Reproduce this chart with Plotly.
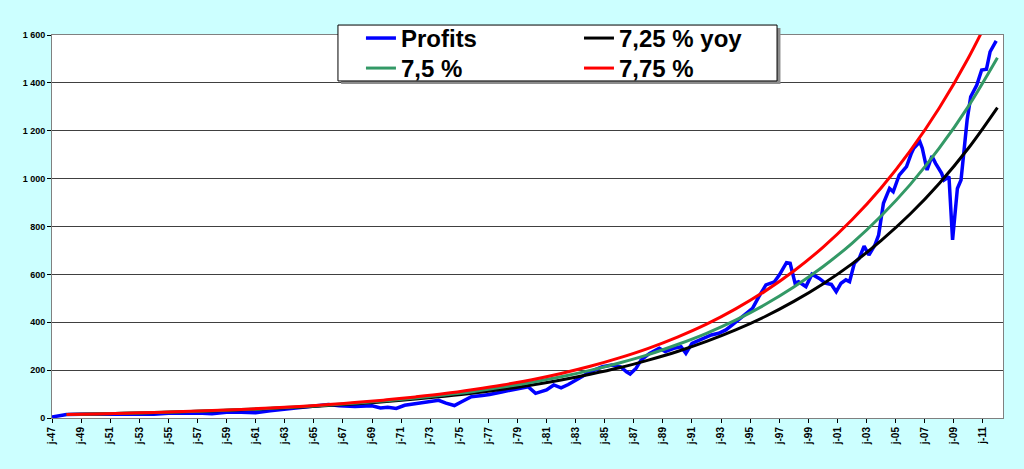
import plotly.graph_objects as go

# Profits series (date, value)
profit_dates = [
    "1947-01-01", "1947-07-01", "1948-01-01", "1949-01-01", "1950-01-01", "1951-01-01",
    "1952-01-01", "1953-01-01", "1954-01-01", "1955-01-01", "1956-01-01", "1957-01-01",
    "1958-01-01", "1959-01-01", "1960-01-01", "1961-01-01", "1962-01-01", "1963-04-01",
    "1964-07-01", "1966-01-01", "1966-10-01", "1967-11-01", "1969-01-01", "1969-08-01",
    "1970-02-01", "1970-09-01", "1971-04-01", "1972-07-01", "1973-08-01", "1974-02-01",
    "1974-09-01", "1975-03-01", "1975-11-01", "1976-08-01", "1977-02-01", "1978-01-01",
    "1979-02-01", "1979-10-01", "1980-04-01", "1981-01-01", "1981-07-01", "1982-01-01",
    "1982-07-01", "1983-01-01", "1983-04-01", "1984-01-01", "1984-11-01", "1985-07-01",
    "1986-02-01", "1986-07-01", "1986-10-01", "1987-03-01", "1987-07-01", "1988-02-01",
    "1988-10-01", "1989-03-01", "1989-10-01", "1990-04-01", "1990-08-01", "1991-01-01",
    "1991-07-01", "1992-01-01", "1992-05-01", "1992-11-01", "1993-05-01", "1993-10-01",
    "1994-05-01", "1994-11-01", "1995-03-01", "1995-08-01", "1996-02-01", "1996-09-01",
    "1997-01-01", "1997-07-01", "1997-10-01", "1998-02-01", "1998-05-01", "1998-11-01",
    "1999-04-01", "1999-10-01", "2000-03-01", "2000-08-01", "2000-12-01", "2001-04-01",
    "2001-08-01", "2001-11-01", "2002-03-01", "2002-07-01", "2002-11-01", "2003-03-01",
    "2003-08-01", "2003-11-01", "2004-03-01", "2004-08-01", "2004-11-01", "2005-04-01",
    "2005-10-01", "2006-02-01", "2006-04-01", "2006-09-01", "2006-11-01", "2007-03-01",
    "2007-07-01", "2007-10-01", "2008-03-01", "2008-05-01", "2008-09-01", "2008-12-01",
    "2009-04-01", "2009-07-01", "2009-12-01", "2010-03-01", "2010-08-01", "2010-12-01",
    "2011-04-01", "2011-07-01", "2011-12-01",
]
profit_values = [
    4, 10, 15, 16, 16, 17,
    16, 17, 16, 20, 21, 21,
    18, 24, 24, 22, 30, 37,
    44, 56, 51, 48, 51, 42,
    45, 40, 53, 64, 74, 62,
    52, 68, 89, 94, 98, 110,
    124, 130, 103, 117, 138, 126,
    140, 155, 166, 193, 214, 221,
    214, 193, 184, 208, 242, 270,
    291, 277, 291, 298, 270, 312,
    326, 340, 347, 354, 368, 388,
    416, 444, 458, 505, 556, 569,
    597, 649, 646, 563, 569, 549,
    601, 583, 563, 558, 528, 563,
    577, 569, 646, 667, 718, 681,
    723, 764, 897, 959, 945, 1015,
    1050, 1106, 1127, 1154, 1127, 1036,
    1094, 1064, 1022, 994, 1008, 744,
    959, 994, 1245, 1342, 1391, 1454,
    1457, 1530, 1575,
]

# Growth reference curves, read every two years
trend_dates = [f"{y}-01-01" for y in range(1948, 2013, 2)]
yoy_725 = [14.7, 16.9, 19.5, 22.4, 25.7, 29.6, 34.0, 39.2, 45.1, 51.8, 59.6,
           68.6, 78.9, 90.7, 104, 120, 138, 159, 183, 210, 242, 278,
           320, 368, 423, 487, 560, 644, 741, 852, 980, 1127, 1297]
yoy_75 = [14.7, 17.0, 19.6, 22.7, 26.2, 30.3, 35.0, 40.5, 46.8, 54.0, 62.5,
          72.2, 83.4, 96.4, 111, 129, 149, 172, 199, 230, 265, 307,
          354, 409, 473, 547, 632, 730, 844, 975, 1127, 1302, 1505]
yoy_775 = [14.7, 17.1, 19.8, 23.0, 26.7, 31.0, 36.0, 41.8, 48.5, 56.3, 65.4,
           75.9, 88.2, 102, 119, 138, 160, 186, 216, 251, 291, 338,
           392, 456, 529, 614, 713, 828, 961, 1116, 1295, 1504, 1746]

tick_dates = [f"{y}-01-01" for y in range(1947, 2012, 2)]
tick_labels = [f"j-{y % 100:02d}" for y in range(1947, 2012, 2)]
y_ticks = list(range(0, 1601, 200))
y_labels = ["0", "200", "400", "600", "800", "1 000", "1 200", "1 400", "1 600"]

font_family = "Arial, Liberation Sans, sans-serif"

fig = go.Figure()
fig.add_trace(go.Scatter(x=profit_dates, y=profit_values, name="Profits", mode="lines",
                         line=dict(color="#0000ff", width=3.5), legend="legend"))
fig.add_trace(go.Scatter(x=trend_dates, y=yoy_725, name="7,25 % yoy", mode="lines",
                         line=dict(color="#000000", width=3, shape="spline"), legend="legend2"))
fig.add_trace(go.Scatter(x=trend_dates, y=yoy_75, name="7,5 %", mode="lines",
                         line=dict(color="#339966", width=3, shape="spline"), legend="legend3"))
fig.add_trace(go.Scatter(x=trend_dates, y=yoy_775, name="7,75 %", mode="lines",
                         line=dict(color="#ff0000", width=3, shape="spline"), legend="legend4"))

legend_style = dict(
    bgcolor="rgba(0,0,0,0)", borderwidth=0, yanchor="top", xanchor="left",
    xref="container", yref="container",
    font=dict(family=font_family, size=24, color="#000000", weight="bold"),
    tracegroupgap=0, itemwidth=30,
)

fig.update_layout(
    width=1024, height=469,
    margin=dict(l=52, r=21, t=35, b=51, autoexpand=False),
    paper_bgcolor="#ccffff",
    plot_bgcolor="#ffffff",
    showlegend=True,
    legend=dict(x=0.3525, y=0.966, **legend_style),
    legend2=dict(x=0.5654, y=0.966, **legend_style),
    legend3=dict(x=0.3525, y=0.902, **legend_style),
    legend4=dict(x=0.5654, y=0.902, **legend_style),
    shapes=[
        # legend shadow and box
        dict(type="rect", xref="paper", yref="paper", x0=0.304, x1=0.766, y0=0.872, y1=1.018,
             fillcolor="#8c8c8c", line=dict(width=0), layer="above"),
        dict(type="rect", xref="paper", yref="paper", x0=0.3007, x1=0.7624, y0=0.880, y1=1.026,
             fillcolor="#ffffff", line=dict(color="#000000", width=1), layer="above"),
    ],
    xaxis=dict(
        type="date", range=["1947-01-01", "2012-05-20"], automargin=False,
        tickvals=tick_dates, ticktext=tick_labels, tickangle=-90,
        ticks="outside", ticklen=4, tickcolor="#000000",
        tickfont=dict(family=font_family, size=10, color="#000000", weight="bold"),
        showgrid=False, showline=True, linecolor="#808080", linewidth=1, mirror=True,
    ),
    yaxis=dict(
        range=[0, 1600], tickvals=y_ticks, ticktext=y_labels, automargin=False,
        ticks="outside", ticklen=4, tickcolor="#000000",
        tickfont=dict(family=font_family, size=9, color="#000000", weight="bold"),
        showgrid=True, gridcolor="#404040", gridwidth=1, zeroline=False,
        showline=True, linecolor="#808080", linewidth=1, mirror=True,
    ),
)

fig.write_html("out.html", config={"displayModeBar": False},
               post_script="document.body.style.margin='0';")
